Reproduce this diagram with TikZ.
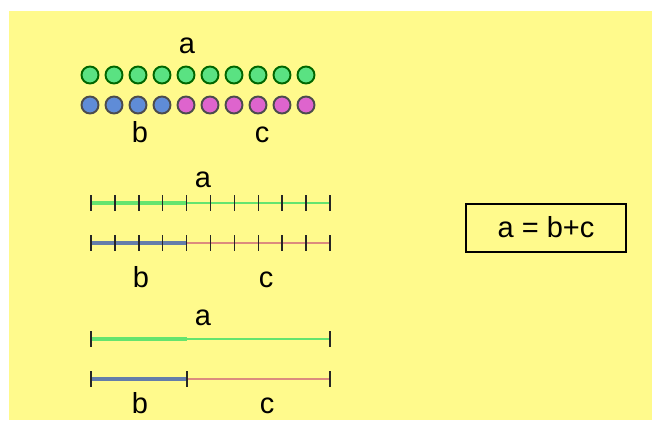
\documentclass[tikz,border=0pt]{standalone}
\usepackage{fontspec}
\setmainfont{Liberation Sans}
\definecolor{paper}{RGB}{255,250,140}
\definecolor{agreen}{RGB}{90,226,130}
\definecolor{bblue}{RGB}{95,140,215}
\definecolor{cpink}{RGB}{222,100,205}
\definecolor{lgreen}{RGB}{100,228,110}
\definecolor{lblue}{RGB}{100,125,170}
\definecolor{lpink}{RGB}{220,140,125}
\tikzset{
  lbl/.style={anchor=base,font=\fontsize{16.5}{19}\selectfont},
  bead/.style={line width=1.1pt},
  tick/.style={line width=0.9pt,black!85}
}
\begin{document}
\begin{tikzpicture}[x=0.02cm,y=-0.02cm]
\useasboundingbox (0,0) rectangle (652,420);
\fill[paper] (9,11) rectangle (652,420);
% beads
\node[lbl] (ta) at (187,53) {a};
\foreach \i in {0,...,9}
  \filldraw[bead,fill=agreen,draw=green!40!black] (90+24*\i,75) circle (8.5);
\foreach \i in {0,...,3}
  \filldraw[bead,fill=bblue,draw=black!70] (90+24*\i,105) circle (8.5);
\foreach \i in {4,...,9}
  \filldraw[bead,fill=cpink,draw=black!70] (90+24*\i,105) circle (8.5);
\node[lbl] (tb) at (140,142) {b};
\node[lbl] (tc) at (262,142) {c};
% number line with units
\node[lbl] (ma) at (203,187) {a};
\draw[lgreen,line width=2.6pt] (91,203)--(187,203);
\draw[lgreen,line width=1.4pt] (187,203)--(330,203);
\draw[lblue,line width=2.6pt] (91,243)--(187,243);
\draw[lpink,line width=1.4pt] (187,243)--(330,243);
\foreach \i in {0,...,10} {
  \draw[tick] (91+23.9*\i,195)--(91+23.9*\i,211);
  \draw[tick] (91+23.9*\i,235)--(91+23.9*\i,251);
}
\node[lbl] (mb) at (141,287) {b};
\node[lbl] (mc) at (266,287) {c};
% plain segments
\node[lbl] (ba) at (203,325) {a};
\draw[lgreen,line width=2.6pt] (91,339)--(187,339);
\draw[lgreen,line width=1.4pt] (187,339)--(330,339);
\draw[lblue,line width=2.6pt] (91,379)--(187,379);
\draw[lpink,line width=1.4pt] (187,379)--(330,379);
\foreach \x in {91,330}
  \draw[tick] (\x,331)--(\x,347);
\foreach \x in {91,187,330}
  \draw[tick] (\x,371)--(\x,387);
\node[lbl] (bb) at (140,413) {b};
\node[lbl] (bc) at (267,413) {c};
% the sum
\draw[line width=0.8pt] (466,204) rectangle (626,252);
\node[lbl] (sum) at (546,237) {a = b+c};
\end{tikzpicture}
\end{document}
